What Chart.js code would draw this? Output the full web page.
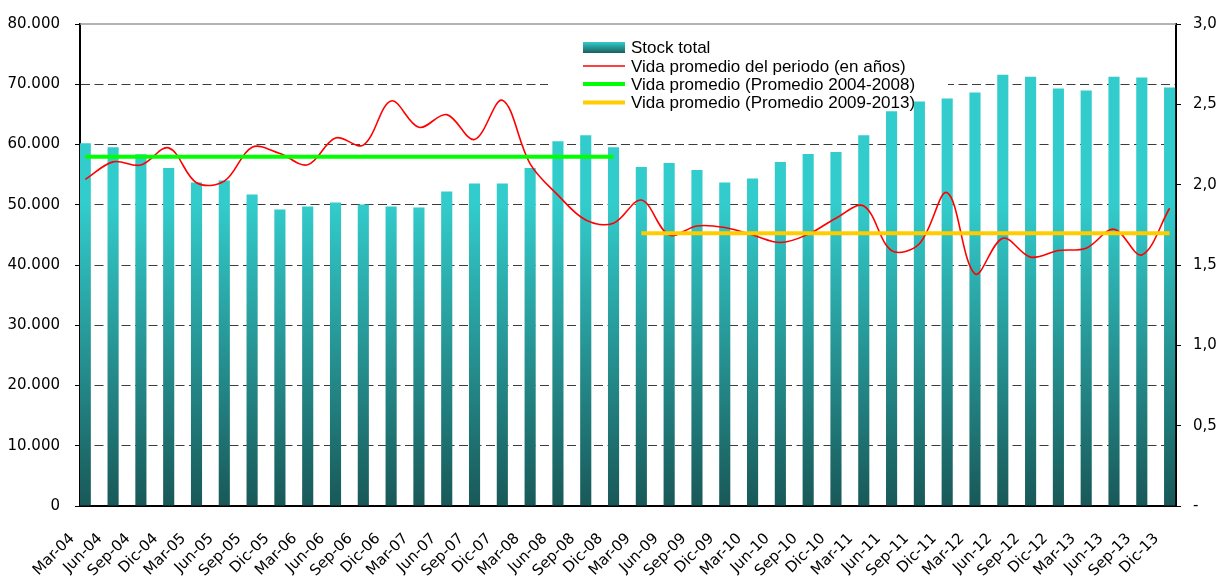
<!DOCTYPE html>
<html>
<head>
<meta charset="utf-8">
<script src="https://cdn.jsdelivr.net/npm/chart.js@4.4.1/dist/chart.umd.min.js"></script>
<style>
    html, body { margin: 0; padding: 0; background: #fff; }
    #wrap { width: 1218px; height: 579px; position: relative; }
</style>
</head>
<body>
<div id="wrap"><canvas id="chart"></canvas></div>
<script>
const quarters = [
    'Mar-04', 'Jun-04', 'Sep-04', 'Dic-04', 'Mar-05', 'Jun-05', 'Sep-05', 'Dic-05',
    'Mar-06', 'Jun-06', 'Sep-06', 'Dic-06', 'Mar-07', 'Jun-07', 'Sep-07', 'Dic-07',
    'Mar-08', 'Jun-08', 'Sep-08', 'Dic-08', 'Mar-09', 'Jun-09', 'Sep-09', 'Dic-09',
    'Mar-10', 'Jun-10', 'Sep-10', 'Dic-10', 'Mar-11', 'Jun-11', 'Sep-11', 'Dic-11',
    'Mar-12', 'Jun-12', 'Sep-12', 'Dic-12', 'Mar-13', 'Jun-13', 'Sep-13', 'Dic-13'
];

const stockTotal = [
    60200, 59560, 58400, 56090, 53690, 54020, 51710, 49230,
    49720, 50390, 50050, 49720, 49560, 52200, 53530, 53530,
    56090, 60550, 61540, 59560, 56270, 56920, 55770, 53680,
    54340, 57090, 58410, 58740, 61540, 65500, 67140, 67640,
    68630, 71590, 71260, 69290, 68960, 71260, 71100, 69450
];

const vidaPeriodo = [
    2.033, 2.142, 2.122, 2.229, 2.012, 2.022, 2.233, 2.194,
    2.124, 2.291, 2.246, 2.521, 2.357, 2.436, 2.281, 2.525,
    2.130, 1.935, 1.780, 1.760, 1.904, 1.687, 1.743, 1.733,
    1.687, 1.640, 1.691, 1.791, 1.867, 1.590, 1.632, 1.950,
    1.445, 1.667, 1.549, 1.590, 1.605, 1.723, 1.563, 1.853
];

const promedio0408 = 2.173;
const promedio0913 = 1.698;

const leftTickLabels = ['0', '10.000', '20.000', '30.000', '40.000', '50.000', '60.000', '70.000', '80.000'];
const rightTickLabels = ['-', '0,5', '1,0', '1,5', '2,0', '2,5', '3,0'];

Chart.defaults.font.family = '"DejaVu Sans", sans-serif';
Chart.defaults.font.size = 15;
Chart.defaults.color = '#000';

function barGradient(context) {
    const area = context.chart.chartArea;
    if (!area) return '#33CCCC';
    const g = context.chart.ctx.createLinearGradient(0, area.top, 0, area.bottom);
    g.addColorStop(0, '#33CCCC');
    g.addColorStop(0.37, '#33CCCC');
    g.addColorStop(1, '#195858');
    return g;
}

// legend box sitting inside the plot, like the original
const legendBox = {
    id: 'legendBox',
    beforeDatasetsDraw(chart) {
        const ctx = chart.ctx;
        const x0 = 548, y0 = 33, w = 400, h = 81;
        const sx = 583, sw = 42, tx = 631;
        const rows = [47.5, 66, 84, 102.5];
        ctx.save();
        ctx.fillStyle = '#fff';
        ctx.fillRect(x0, y0, w, h);
        ctx.font = '17px "Liberation Sans", Arial, sans-serif';
        ctx.textBaseline = 'middle';
        ctx.textAlign = 'left';
        chart.data.datasets.forEach((ds, i) => {
            const y = rows[i];
            if (ds.type === 'bar') {
                const g = ctx.createLinearGradient(0, y - 5.5, 0, y + 5.5);
                g.addColorStop(0, '#33CCCC');
                g.addColorStop(1, '#1A5E5E');
                ctx.fillStyle = g;
                ctx.fillRect(sx, y - 5.5, sw, 11);
            } else {
                ctx.strokeStyle = ds.borderColor;
                ctx.lineWidth = ds.borderWidth;
                ctx.beginPath();
                ctx.moveTo(sx, y);
                ctx.lineTo(sx + sw, y);
                ctx.stroke();
            }
            ctx.fillStyle = '#000';
            ctx.fillText(ds.label, tx, y + 1);
        });
        ctx.restore();
    },
    afterDraw(chart) {
        const {ctx, chartArea} = chart;
        ctx.save();
        ctx.strokeStyle = '#9a9a9a';
        ctx.lineWidth = 1.5;
        ctx.beginPath();
        ctx.moveTo(chartArea.left, chartArea.top);
        ctx.lineTo(chartArea.right, chartArea.top);
        ctx.stroke();
        ctx.restore();
    }
};

const ctx = document.getElementById('chart').getContext('2d');

const chart = new Chart(ctx, {
    type: 'bar',
    data: {
        datasets: [{
            type: 'bar',
            label: 'Stock total',
            data: stockTotal.map((v, i) => ({x: i, y: v})),
            yAxisID: 'y',
            backgroundColor: barGradient,
            barPercentage: 0.4,
            categoryPercentage: 1,
            order: 3
        }, {
            type: 'line',
            label: 'Vida promedio del periodo (en años)',
            data: vidaPeriodo.map((v, i) => ({x: i, y: v})),
            yAxisID: 'y1',
            borderColor: '#FF0000',
            borderWidth: 1.6,
            pointRadius: 0,
            tension: 0.35,
            order: 2
        }, {
            type: 'line',
            label: 'Vida promedio (Promedio 2004-2008)',
            data: [
                {x: quarters.indexOf('Mar-04'), y: promedio0408},
                {x: quarters.indexOf('Dic-08'), y: promedio0408}
            ],
            yAxisID: 'y1',
            borderColor: '#00FF00',
            borderWidth: 4,
            pointRadius: 0,
            order: 1
        }, {
            type: 'line',
            label: 'Vida promedio (Promedio 2009-2013)',
            data: [
                {x: quarters.indexOf('Mar-09'), y: promedio0913},
                {x: quarters.indexOf('Dic-13'), y: promedio0913}
            ],
            yAxisID: 'y1',
            borderColor: '#FFCC00',
            borderWidth: 4,
            pointRadius: 0,
            order: 1
        }]
    },
    options: {
        responsive: true,
        maintainAspectRatio: false,
        animation: false,
        layout: {
            padding: {top: 23, left: 0, right: 0, bottom: 0}
        },
        plugins: {
            legend: {display: false},
            title: {display: false},
            tooltip: {enabled: false}
        },
        scales: {
            x: {
                type: 'linear',
                offset: false,
                min: -0.19,
                max: 39.23,
                afterBuildTicks: function (scale) {
                    scale.ticks = quarters.map((q, i) => ({value: i}));
                },
                afterFit: function (scale) {
                    scale.height = 73;
                },
                ticks: {
                    autoSkip: false,
                    maxRotation: 45,
                    minRotation: 45,
                    padding: 24,
                    labelOffset: -13,
                    callback: function (value) {
                        return quarters[value];
                    }
                },
                grid: {display: false, drawTicks: false, offset: false},
                border: {color: '#000', width: 2}
            },
            y: {
                type: 'linear',
                position: 'left',
                min: 0,
                max: 80000,
                afterBuildTicks: function (scale) {
                    scale.ticks = leftTickLabels.map((t, i) => ({value: i * 10000}));
                },
                afterFit: function (scale) {
                    scale.width = 80;
                },
                ticks: {
                    padding: 15,
                    callback: function (value, index) {
                        return leftTickLabels[index];
                    }
                },
                grid: {
                    color: function (c) {
                        if (c.tick && (c.tick.value === 0 || c.tick.value === 80000)) return 'rgba(0,0,0,0)';
                        return '#3c3c3c';
                    },
                    lineWidth: 1,
                    tickLength: 5,
                    tickColor: '#000',
                    tickBorderDash: []
                },
                border: {color: '#000', width: 2, dash: [9, 4.5]}
            },
            y1: {
                type: 'linear',
                position: 'right',
                min: 0,
                max: 3,
                afterBuildTicks: function (scale) {
                    scale.ticks = rightTickLabels.map((t, i) => ({value: i * 0.5}));
                },
                afterFit: function (scale) {
                    scale.width = 42;
                },
                ticks: {
                    padding: 12,
                    callback: function (value, index) {
                        return rightTickLabels[index];
                    }
                },
                grid: {
                    drawOnChartArea: false,
                    tickLength: 5,
                    tickColor: '#000'
                },
                border: {color: '#000', width: 2}
            }
        }
    },
    plugins: [legendBox]
});
</script>
</body>
</html>
